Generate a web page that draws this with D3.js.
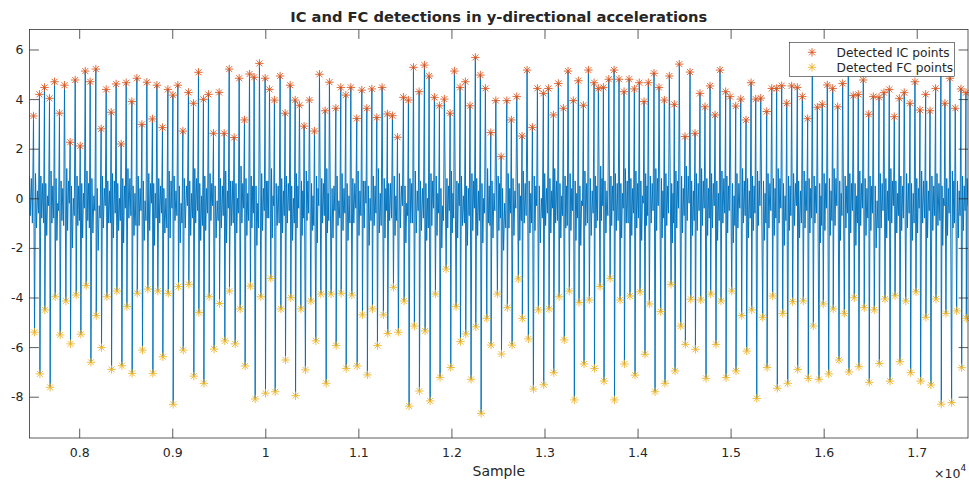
<!DOCTYPE html>
<html>
<head>
<meta charset="utf-8">
<script src="https://cdn.jsdelivr.net/npm/d3@7"></script>
<style>
  body { margin: 0; background: #fff; }
  svg { display: block; }
  text { font-family: "DejaVu Sans", sans-serif; fill: #262626; }
</style>
</head>
<body>
<svg id="chart" width="969" height="483"></svg>
<script>
// Sample index of each detected initial contact (IC) and its acceleration
const icSample = [
  7509,7573,7627,7681,7735,7788,7842,7903,7957,8011,
  8065,8118,8179,8236,8290,8344,8397,8451,8505,8566,
  8620,8674,8727,8787,8835,8895,8953,9007,9060,9114,
  9174,9228,9282,9335,9389,9443,9504,9558,9612,9665,
  9719,9776,9830,9880,9937,9998,10045,10098,10159,10213,
  10267,10321,10367,10417,10474,10528,10582,10643,10689,10758,
  10811,10865,10919,10983,11037,11091,11145,11198,11255,11312,
  11366,11420,11484,11538,11592,11653,11710,11760,11817,11871,
  11924,11986,12032,12093,12150,12200,12257,12311,12365,12423,
  12477,12534,12595,12644,12702,12759,12813,12870,12924,12988,
  13042,13096,13149,13203,13253,13310,13364,13418,13472,13533,
  13579,13633,13691,13748,13801,13855,13909,13966,14019,14070,
  14116,14177,14231,14288,14342,14395,14449,14510,14564,14618,
  14671,14725,14779,14833,14886,14947,14994,15055,15109,15166,
  15220,15270,15324,15388,15442,15495,15549,15603,15656,15717,
  15771,15828,15878,15932,15985,16039,16097,16151,16204,16265,
  16318,16372,16426,16484,16533,16595,16648,16705,16759,16813,
  16866,16928,16981,17035,17096,17143,17203,17260,17303,17357,
  17414,17475,17529
];
const icValue = [
  3.32,4.19,4.47,4.03,4.70,3.43,4.56,2.26,4.77,2.11,
  5.13,4.70,5.21,2.80,4.39,3.47,4.61,2.19,4.66,3.90,
  4.84,2.98,4.68,3.20,4.56,2.85,4.39,4.16,4.56,2.71,
  4.27,3.83,5.08,3.99,4.19,2.62,4.27,2.62,5.21,2.45,
  4.84,3.16,5.01,4.88,5.44,4.84,4.39,3.96,4.93,3.43,
  4.56,3.96,3.75,2.91,3.96,2.71,5.00,3.53,4.68,3.63,
  4.47,4.16,4.47,3.22,4.36,3.63,4.41,3.26,4.47,3.40,
  3.33,2.46,4.07,3.96,5.28,4.30,5.37,4.93,4.07,3.73,
  4.00,3.43,5.13,4.47,4.70,3.73,5.68,4.97,4.43,2.65,
  3.94,1.68,3.94,3.16,4.10,2.51,5.17,2.86,4.43,4.23,
  4.43,3.36,4.63,3.63,5.13,3.94,4.74,3.75,5.17,4.66,
  4.43,4.47,4.80,5.17,4.80,4.30,4.80,4.41,4.66,3.90,
  4.66,5.04,4.47,3.96,4.93,3.79,5.41,2.49,5.09,2.62,
  4.23,3.69,4.53,3.36,5.17,4.30,4.10,3.72,4.00,3.16,
  4.66,4.00,4.04,3.50,4.43,4.43,4.54,3.83,4.53,4.47,
  4.10,3.21,5.30,3.67,3.79,4.57,4.43,3.69,4.63,5.20,
  4.14,4.19,4.77,3.39,4.10,4.07,4.26,4.39,3.29,4.03,
  4.26,3.83,4.70,3.56,4.19,3.53,4.43,5.10,3.83,4.84,
  3.63,4.41,4.26
];

// Sample index of each detected final contact (FC) and its acceleration
const fcSample = [
  7520,7578,7631,7688,7742,7796,7857,7907,7968,8018,
  8075,8126,8183,8240,8298,8348,8405,8459,8513,8569,
  8624,8680,8738,8792,8845,8899,8957,9010,9067,9118,
  9178,9232,9286,9340,9397,9450,9508,9565,9615,9676,
  9730,9783,9840,9891,9952,10002,10059,10106,10167,10217,
  10274,10325,10382,10431,10489,10543,10597,10654,10707,10761,
  10815,10869,10930,10987,11044,11097,11151,11205,11269,11316,
  11377,11430,11492,11545,11602,11656,11717,11771,11828,11878,
  11943,11993,12050,12097,12154,12211,12262,12319,12380,12426,
  12494,12538,12601,12652,12719,12762,12827,12881,12934,12992,
  13049,13100,13157,13213,13267,13321,13371,13425,13482,13537,
  13597,13640,13705,13752,13812,13859,13919,13973,14027,14080,
  14127,14188,14249,14295,14360,14403,14464,14514,14572,14622,
  14679,14736,14786,14843,14897,14951,15012,15058,15119,15173,
  15227,15281,15345,15392,15452,15502,15560,15614,15667,15721,
  15781,15835,15889,15950,15996,16054,16103,16165,16222,16272,
  16329,16379,16436,16490,16544,16598,16659,16713,16767,16820,
  16882,16935,16992,17042,17099,17153,17207,17264,17314,17375,
  17429,17483,17533
];
const fcValue = [
  -5.40,-7.08,-4.50,-7.62,-3.97,-5.51,-4.14,-5.87,-3.90,-5.48,
  -3.52,-6.61,-4.73,-6.02,-3.97,-6.90,-3.74,-6.75,-4.37,-7.06,
  -3.83,-6.12,-3.66,-7.06,-3.74,-6.39,-3.83,-8.31,-3.56,-6.12,
  -3.47,-7.17,-4.61,-7.46,-3.97,-6.08,-4.24,-5.75,-3.74,-5.87,
  -4.46,-6.76,-3.54,-8.09,-3.97,-7.86,-3.23,-7.80,-4.46,-6.52,
  -4.01,-7.96,-4.46,-6.92,-4.14,-5.75,-3.86,-7.46,-3.86,-5.94,
  -3.83,-6.86,-3.90,-6.76,-4.70,-7.12,-4.46,-5.94,-4.70,-5.45,
  -3.59,-5.40,-4.14,-8.38,-5.15,-7.77,-5.35,-8.17,-3.86,-7.22,
  -2.85,-6.82,-4.37,-5.78,-5.47,-7.30,-5.18,-8.67,-4.84,-5.92,
  -3.86,-6.28,-4.41,-5.92,-3.25,-4.84,-5.67,-7.69,-4.50,-7.52,
  -4.46,-7.03,-3.97,-5.71,-3.74,-8.13,-4.20,-6.68,-4.10,-6.86,
  -3.56,-7.37,-3.23,-8.13,-4.10,-6.68,-3.94,-7.13,-3.77,-6.29,
  -4.26,-7.80,-4.57,-7.46,-3.47,-6.96,-5.15,-5.89,-4.07,-6.09,
  -4.10,-7.26,-3.86,-5.89,-4.14,-7.23,-3.74,-6.96,-4.73,-6.16,
  -4.50,-8.07,-4.80,-6.82,-3.94,-7.66,-4.64,-7.46,-4.17,-6.90,
  -4.14,-7.26,-5.15,-7.30,-4.26,-7.08,-4.46,-6.52,-4.64,-7.00,
  -4.01,-6.79,-4.41,-7.42,-4.50,-6.66,-4.06,-7.37,-3.93,-6.59,
  -4.14,-7.03,-3.77,-7.37,-4.80,-7.53,-4.06,-8.30,-4.64,-8.24,
  -4.54,-6.83,-4.84
];

// Acceleration between contacts: rebound after FC, mid-stride dip,
// second rise, and the small dip just before the next IC
const bandHigh = [
  1.0,0.9,0.6,1.1,0.8,0.7,1.2,0.5,0.9,0.6,
  1.1,0.8,0.4,0.9,0.7,1.0,0.6,0.8,1.2,0.5,
  0.9,0.7,1.0,0.6,0.8,0.4,1.1,0.9,0.5,0.8,
  0.7,1.2,0.6,0.9,1.0,0.5,0.8,1.1,0.7,0.6,
  1.3,0.8,0.9,0.5,1.0,0.7,1.2,0.6,0.8,0.9,
  0.5,1.0,0.7,1.1,0.6,0.9,0.8,1.2,0.4,0.9,
  1.0,0.6,0.8,1.1,0.7,0.5,0.9,1.2,0.8,0.6,
  0.9,1.0,0.5,0.8,1.1,0.7,0.6,1.0,0.9,0.4,
  0.8,1.1,0.7,0.9,0.5,1.0,0.8,0.6,1.2,0.7,
  0.9,0.4,1.0,0.8,0.6,1.1,0.7,0.9,0.5,1.0,
  0.8,1.2,0.6,0.9,1.0,0.7,0.5,1.1,0.8,0.9,
  1.3,0.7,0.9,1.0,0.6,1.2,0.8,1.1,0.7,1.0,
  0.9,1.2,0.8,1.0,0.6,1.1,0.9,1.3,0.7,1.0,
  1.2,0.8,1.0,0.7,1.1,0.9,0.6,1.0,1.2,0.8,
  0.9,1.1,0.7,1.0,0.8,1.2,0.6,0.9,1.0,0.7,
  1.1,0.8,0.9,0.6,1.0,0.8,1.2,0.7,0.9,1.0,
  0.6,1.1,0.8,0.9,0.5,1.0,0.8,1.2,0.7,0.9,
  1.0,0.6,0.8,1.1,0.7,0.9,1.0,0.5,0.8,1.1,
  0.7,0.9
];
const bandLow = [
  -1.2,-0.8,-1.5,-1.0,-1.7,-0.9,-1.3,-2.0,-1.1,-1.6,
  -0.9,-1.4,-2.1,-1.2,-1.0,-1.6,-1.3,-1.8,-0.8,-1.5,
  -1.1,-1.7,-1.3,-1.9,-1.0,-1.4,-1.6,-0.9,-1.8,-1.2,
  -1.5,-1.0,-1.7,-1.3,-0.9,-1.6,-1.2,-1.8,-1.1,-1.4,
  -1.0,-1.5,-1.2,-1.9,-1.3,-0.8,-1.6,-1.1,-1.4,-1.0,
  -1.7,-1.2,-1.5,-0.9,-1.3,-1.8,-1.0,-1.4,-1.6,-1.1,
  -1.3,-1.7,-1.0,-1.5,-1.2,-1.9,-1.1,-1.4,-1.6,-0.9,
  -1.5,-1.2,-1.8,-1.0,-1.4,-1.3,-1.7,-1.1,-1.5,-2.0,
  -1.2,-1.4,-1.6,-1.1,-1.9,-1.3,-1.5,-1.8,-1.0,-1.6,
  -1.3,-2.1,-1.2,-1.5,-1.7,-1.0,-1.4,-1.3,-1.8,-1.1,
  -1.4,-1.0,-1.6,-1.2,-1.3,-1.7,-1.9,-1.1,-1.5,-1.2,
  -0.9,-1.4,-1.1,-1.3,-1.6,-1.0,-1.5,-1.2,-1.7,-1.1,
  -1.0,-1.3,-1.6,-1.1,-1.8,-1.2,-1.4,-0.9,-1.5,-1.3,
  -1.1,-1.5,-1.2,-1.7,-1.0,-1.4,-1.8,-1.2,-1.0,-1.6,
  -1.3,-1.1,-1.7,-1.2,-1.5,-1.0,-1.9,-1.3,-1.1,-1.6,
  -1.2,-1.4,-1.0,-1.8,-1.3,-1.5,-1.1,-1.7,-1.2,-1.4,
  -1.9,-1.1,-1.5,-1.3,-2.0,-1.2,-1.6,-1.0,-1.4,-1.3,
  -1.2,-1.7,-1.4,-1.0,-1.6,-1.3,-1.1,-1.9,-1.5,-1.2,
  -1.6,-1.3
];
const bandMid = [
  0.3,0.6,0.1,0.5,-0.2,0.4,0.7,0.0,0.5,0.2,
  0.6,0.1,-0.3,0.4,0.3,0.7,0.0,0.5,0.8,0.2,
  0.4,-0.1,0.6,0.2,0.5,0.0,0.7,0.3,-0.2,0.5,
  0.2,0.8,0.1,0.4,0.6,-0.1,0.5,0.3,0.7,0.0,
  0.6,0.2,0.5,-0.2,0.4,0.7,0.1,0.5,0.3,0.6,
  0.0,0.5,0.3,0.7,0.1,0.4,0.6,0.2,0.5,-0.1,
  0.4,0.1,0.6,0.3,0.7,0.0,0.5,0.2,0.4,0.6,
  0.1,0.5,-0.2,0.6,0.3,0.4,0.0,0.7,0.2,-0.3,
  0.5,0.2,0.6,0.1,0.4,0.7,0.3,0.0,0.5,0.2,
  0.6,-0.2,0.4,0.3,0.1,0.6,0.2,0.5,0.0,0.4,
  0.3,0.7,0.1,0.5,0.4,0.2,-0.1,0.6,0.3,0.5,
  0.8,0.3,0.5,0.6,0.2,0.7,0.4,0.6,0.1,0.5,
  0.6,0.8,0.3,0.5,0.2,0.7,0.4,0.9,0.3,0.6,
  0.7,0.4,0.6,0.2,0.8,0.5,0.1,0.6,0.7,0.3,
  0.5,0.7,0.2,0.6,0.4,0.8,0.1,0.5,0.6,0.3,
  0.7,0.4,0.5,0.1,0.6,0.3,0.8,0.2,0.5,0.6,
  0.1,0.6,0.4,0.5,-0.1,0.6,0.3,0.7,0.2,0.5,
  0.6,0.2,0.4,0.7,0.3,0.5,0.6,0.0,0.4,0.7,
  0.3,0.5
];
const bandPre = [
  -0.6,-1.0,-0.3,-0.8,-0.5,-1.1,-0.2,-0.7,-0.9,-0.4,
  -1.2,-0.5,-0.8,-0.3,-1.0,-0.6,-0.9,-0.4,-0.7,-1.1,
  -0.5,-0.9,-0.2,-0.8,-0.6,-1.2,-0.4,-0.7,-1.0,-0.3,
  -0.8,-0.5,-1.1,-0.6,-0.3,-0.9,-0.7,-0.4,-1.0,-0.6,
  -0.4,-0.9,-0.6,-1.2,-0.5,-0.8,-0.3,-1.0,-0.7,-0.5,
  -1.0,-0.4,-0.8,-0.6,-1.1,-0.3,-0.7,-0.9,-0.5,-0.8,
  -0.6,-1.0,-0.4,-0.7,-0.2,-0.9,-0.6,-1.1,-0.5,-0.8,
  -0.9,-0.3,-0.7,-1.0,-0.5,-0.8,-1.2,-0.4,-0.6,-0.9,
  -0.5,-0.8,-0.3,-1.0,-0.7,-0.4,-0.9,-0.6,-1.1,-0.5,
  -0.8,-1.2,-0.6,-0.4,-0.9,-0.7,-1.0,-0.3,-0.8,-0.6,
  -0.4,-0.9,-0.7,-1.1,-0.5,-0.8,-0.3,-1.0,-0.6,-0.9,
  -0.3,-0.7,-0.5,-0.9,-0.4,-1.0,-0.6,-0.8,-0.2,-0.7,
  -0.5,-0.3,-0.8,-0.6,-1.0,-0.4,-0.7,-0.2,-0.9,-0.5,
  -0.4,-0.8,-0.3,-0.9,-0.6,-0.5,-1.1,-0.4,-0.7,-0.8,
  -0.6,-0.3,-1.0,-0.5,-0.8,-0.4,-0.9,-0.7,-0.3,-1.0,
  -0.5,-0.8,-0.6,-1.1,-0.4,-0.9,-0.3,-0.7,-0.6,-0.5,
  -1.0,-0.4,-0.8,-0.6,-1.2,-0.5,-0.9,-0.3,-0.7,-0.8,
  -0.6,-1.0,-0.4,-0.8,-0.5,-0.7,-0.9,-0.3,-0.6,-1.0,
  -0.7,-0.5
];

// Start and end of the recording segment
const leadSample = [7466, 7474, 7486, 7497];
const leadValue = [0.9, -0.7, 0.8, -1.0];
const tailSample = [17541, 17551];
const tailValue = [0.8, -0.3];

// Axis limits and ticks
const xLimits = [7466, 17551];
const yLimits = [-9.665, 6.806];
const xTicks = [8000, 9000, 10000, 11000, 12000, 13000, 14000, 15000, 16000, 17000];
const xTickLabels = ["0.8", "0.9", "1", "1.1", "1.2", "1.3", "1.4", "1.5", "1.6", "1.7"];
const yTicks = [-8, -6, -4, -2, 0, 2, 4, 6];

const titleText = "IC and FC detections in y-directional accelerations";
const xLabelText = "Sample";
const legendLabels = ["Detected IC points", "Detected FC points"];

const colors = { signal: "#0072BD", ic: "#D95319", fc: "#EDB120", axis: "#262626" };

const box = { left: 29.5, top: 29.5, right: 968, bottom: 438 };
const tickLen = 9.4;

const svg = d3.select("#chart");
const x = d3.scaleLinear().domain(xLimits).range([box.left, box.right]);
const y = d3.scaleLinear().domain(yLimits).range([box.bottom, box.top]);

// Assemble the acceleration trace: spike to IC, drop to FC, then the between-contact wobble
const signal = [];
leadSample.forEach((s, i) => signal.push([s, leadValue[i]]));
const n = icSample.length;
for (let i = 0; i < n; i++) {
  signal.push([icSample[i], icValue[i]]);
  signal.push([fcSample[i], fcValue[i]]);
  if (i < n - 1) {
    const f = fcSample[i], gap = icSample[i + 1] - f;
    signal.push([f + gap * 0.2, bandHigh[i]]);
    signal.push([f + gap * 0.4, bandLow[i]]);
    signal.push([f + gap * 0.6, bandMid[i]]);
    signal.push([f + gap * 0.8, bandPre[i]]);
  }
}
tailSample.forEach((s, i) => signal.push([s, tailValue[i]]));

svg.append("defs").append("clipPath").attr("id", "plotClip")
  .append("rect")
  .attr("x", box.left).attr("y", box.top)
  .attr("width", box.right - box.left).attr("height", box.bottom - box.top);

const line = d3.line().x(d => x(d[0])).y(d => y(d[1]));

svg.append("path")
  .datum(signal)
  .attr("clip-path", "url(#plotClip)")
  .attr("d", line)
  .attr("fill", "none")
  .attr("stroke", colors.signal)
  .attr("stroke-width", 0.95)
  .attr("stroke-linejoin", "round");

// Asterisk marker
const r = 4.2, rd = 3.0;
const starPath = `M${-r},0H${r}M0,${-r}V${r}M${-rd},${-rd}L${rd},${rd}M${-rd},${rd}L${rd},${-rd}`;

function drawStars(xs, ys, color) {
  svg.append("g").selectAll("path")
    .data(xs.map((s, i) => [s, ys[i]]))
    .join("path")
    .attr("transform", d => `translate(${x(d[0])},${y(d[1])})`)
    .attr("d", starPath)
    .attr("fill", "none")
    .attr("stroke", color)
    .attr("stroke-width", 0.85);
}
drawStars(icSample, icValue, colors.ic);
drawStars(fcSample, fcValue, colors.fc);

// Axes: ticks point inward on all four sides
const fontTick = 12.5;
const gx = svg.append("g").attr("transform", `translate(0,${box.bottom})`)
  .call(d3.axisBottom(x).tickValues(xTicks).tickFormat((d, i) => xTickLabels[i])
    .tickSizeInner(-tickLen).tickSizeOuter(0).tickPadding(10));
const gxTop = svg.append("g").attr("transform", `translate(0,${box.top})`)
  .call(d3.axisTop(x).tickValues(xTicks).tickFormat("")
    .tickSizeInner(-tickLen).tickSizeOuter(0));
const gy = svg.append("g").attr("transform", `translate(${box.left},0)`)
  .call(d3.axisLeft(y).tickValues(yTicks).tickFormat(d3.format("d"))
    .tickSizeInner(-tickLen).tickSizeOuter(0).tickPadding(6));
const gyRight = svg.append("g").attr("transform", `translate(${box.right},0)`)
  .call(d3.axisRight(y).tickValues(yTicks).tickFormat("")
    .tickSizeInner(-tickLen).tickSizeOuter(0));

[gx, gxTop, gy, gyRight].forEach(g => {
  g.select(".domain").remove();
  g.selectAll(".tick line").attr("stroke", colors.axis).attr("stroke-width", 0.75);
  g.selectAll(".tick text")
    .attr("fill", colors.axis)
    .style("font-family", "'DejaVu Sans', sans-serif")
    .style("font-size", fontTick + "px");
});
gy.selectAll(".tick text").text(d => d < 0 ? "-" + Math.abs(d) : String(d));

svg.append("rect")
  .attr("x", box.left).attr("y", box.top)
  .attr("width", box.right - box.left).attr("height", box.bottom - box.top)
  .attr("fill", "none").attr("stroke", colors.axis).attr("stroke-width", 0.75);

// Exponent of the x axis
const expo = svg.append("text")
  .attr("x", 934).attr("y", 477.5)
  .style("font-size", "12.5px");
expo.append("tspan").text("\u00d710");
expo.append("tspan").attr("dy", -6.5).style("font-size", "9px").text("4");

// Title and axis label
svg.append("text")
  .attr("x", (box.left + box.right) / 2).attr("y", 22)
  .attr("text-anchor", "middle")
  .style("font-size", "14.7px").style("font-weight", "bold")
  .attr("fill", "#000")
  .text(titleText);

svg.append("text")
  .attr("x", (box.left + box.right) / 2).attr("y", 476)
  .attr("text-anchor", "middle")
  .style("font-size", "14px")
  .text(xLabelText);

// Legend
const lg = svg.append("g");
lg.append("rect")
  .attr("x", 789.5).attr("y", 42.5).attr("width", 165).attr("height", 34)
  .attr("fill", "#fff").attr("stroke", colors.axis).attr("stroke-width", 0.6);
[colors.ic, colors.fc].forEach((c, i) => {
  const cy = 52.3 + i * 15;
  lg.append("path")
    .attr("transform", `translate(812,${cy})`)
    .attr("d", starPath).attr("fill", "none").attr("stroke", c).attr("stroke-width", 0.85);
  lg.append("text")
    .attr("x", 836.5).attr("y", cy + 4.3)
    .style("font-size", "12.2px")
    .text(legendLabels[i]);
});
</script>
</body>
</html>
